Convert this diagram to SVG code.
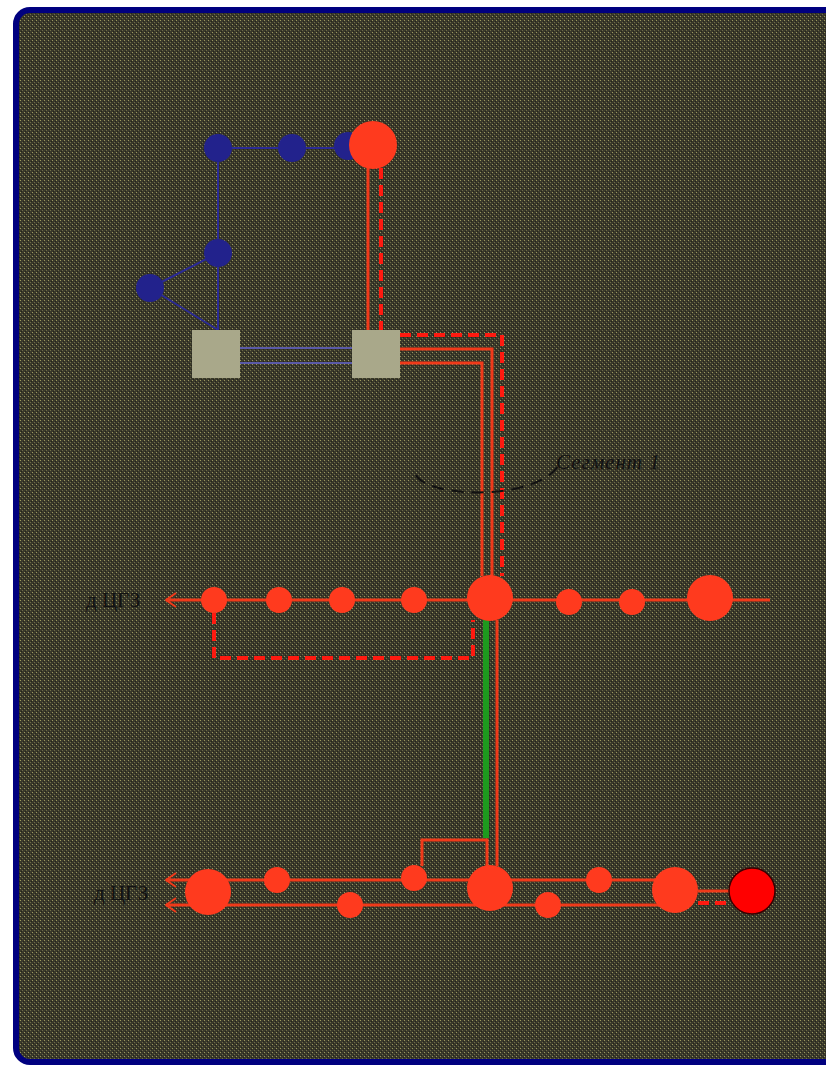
<svg xmlns="http://www.w3.org/2000/svg" width="826" height="1067" viewBox="0 0 826 1067">
<style>
.red{fill:#ff3a1e}
.blue{fill:#22228c}
.bl{stroke:#2a2a96;stroke-width:2;fill:none}
.rl{stroke:#f03a1a;stroke-width:3;fill:none}
.rd{stroke:#ff1a10;stroke-width:4;stroke-dasharray:11 6;fill:none}
.box{fill:#a9a88a}
.lbl{font-family:"Liberation Serif","Noto Sans CJK SC",serif;font-size:21px;fill:#111}
</style>
<defs>
<pattern id="tex" width="4" height="4" patternUnits="userSpaceOnUse">
<rect width="4" height="4" fill="#3a392b"/>
<rect x="0" y="0" width="1" height="1" fill="#9a975e"/>
<rect x="2" y="2" width="1" height="1" fill="#6e6c48"/>
<rect x="1" y="3" width="1" height="1" fill="#242419"/>
<rect x="3" y="1" width="1" height="1" fill="#242419"/>
</pattern>
<marker id="chev" viewBox="0 0 12 16" refX="11" refY="8" markerWidth="12" markerHeight="16" orient="auto" markerUnits="userSpaceOnUse">
<path d="M1,1 L11,8 L1,15" fill="none" stroke="#f03a1a" stroke-width="2"/>
</marker>
</defs>
<rect width="826" height="1067" fill="#ffffff"/>
<rect x="16" y="10" width="840" height="1052" rx="14" fill="url(#tex)" stroke="#00007f" stroke-width="6"/>

<g id="connectors">
<path class="bl" d="M218,148 H348"/>
<path class="bl" d="M218,148 V330"/>
<path class="bl" d="M150,288 L218,253"/>
<path class="bl" d="M150,288 L218,330"/>
<path d="M240,348 H352 M240,363 H352" stroke="#5a5aa8" stroke-width="2" fill="none"/>
<path class="rl" d="M368,168 V330" stroke-width="2"/>
<path class="rd" d="M381,168 V330"/>
<path class="rd" d="M400,335 H502 V576"/>
<path class="rl" d="M400,349 H492 V576" stroke-width="2"/>
<path class="rl" d="M400,363 H482 V576" stroke-width="2"/>
<path d="M416,475 C430,500 545,500 560,462" fill="none" stroke="#111" stroke-width="2" stroke-dasharray="12 8"/>
<path class="rl" d="M770,600 H166" stroke-width="2" marker-end="url(#chev)"/>
<path class="rd" d="M214,613 V658 H473 V620"/>
<path d="M486,620 V838" stroke="#1e9a1e" stroke-width="6" fill="none"/>
<path class="rl" d="M497,620 V866" stroke-width="2"/>
<path class="rl" d="M675,880 H166" stroke-width="2" marker-end="url(#chev)"/>
<path class="rl" d="M675,905 H166" stroke-width="2" marker-end="url(#chev)"/>
<path class="rl" d="M422,866 V840 H487 V866" stroke-width="2"/>
<path class="rl" d="M698,891 H730" stroke-width="2"/>
<path class="rd" d="M698,903 H728"/>
</g>

<g id="n-b1"><circle class="blue" cx="218" cy="148" r="14"/></g>
<g id="n-b2"><circle class="blue" cx="292" cy="148" r="14"/></g>
<g id="n-b3"><circle class="blue" cx="348" cy="146" r="14"/></g>
<g id="n-b4"><circle class="blue" cx="218" cy="253" r="14"/></g>
<g id="n-b5"><circle class="blue" cx="150" cy="288" r="14"/></g>
<g id="n-top"><circle class="red" cx="373" cy="145" r="24"/></g>
<g id="box1"><rect class="box" x="192" y="330" width="48" height="48"/></g>
<g id="box2"><rect class="box" x="352" y="330" width="48" height="48"/></g>

<g id="seg-label"><text class="lbl" x="556" y="469" font-style="italic" font-size="23" letter-spacing="1">Сегмент 1</text></g>

<g id="m1"><circle class="red" cx="214" cy="600" r="13"/></g>
<g id="m2"><circle class="red" cx="279" cy="600" r="13"/></g>
<g id="m3"><circle class="red" cx="342" cy="600" r="13"/></g>
<g id="m4"><circle class="red" cx="414" cy="600" r="13"/></g>
<g id="m5"><circle class="red" cx="490" cy="598" r="23"/></g>
<g id="m6"><circle class="red" cx="569" cy="602" r="13"/></g>
<g id="m7"><circle class="red" cx="632" cy="602" r="13"/></g>
<g id="m8"><circle class="red" cx="710" cy="598" r="23"/></g>
<g id="mlabel"><text class="lbl" x="86" y="607">д ЦГЗ</text></g>

<g id="l1"><circle class="red" cx="208" cy="892" r="23"/></g>
<g id="l2"><circle class="red" cx="277" cy="880" r="13"/></g>
<g id="l3"><circle class="red" cx="350" cy="905" r="13"/></g>
<g id="l4"><circle class="red" cx="414" cy="878" r="13"/></g>
<g id="l5"><circle class="red" cx="490" cy="888" r="23"/></g>
<g id="l6"><circle class="red" cx="548" cy="905" r="13"/></g>
<g id="l7"><circle class="red" cx="599" cy="880" r="13"/></g>
<g id="l8"><circle class="red" cx="675" cy="890" r="23"/></g>
<g id="l9"><circle cx="752" cy="891" r="23" fill="#ff0000" stroke="#3a0000" stroke-width="1.5"/></g>
<g id="llabel"><text class="lbl" x="94" y="900">д ЦГЗ</text></g>
</svg>
